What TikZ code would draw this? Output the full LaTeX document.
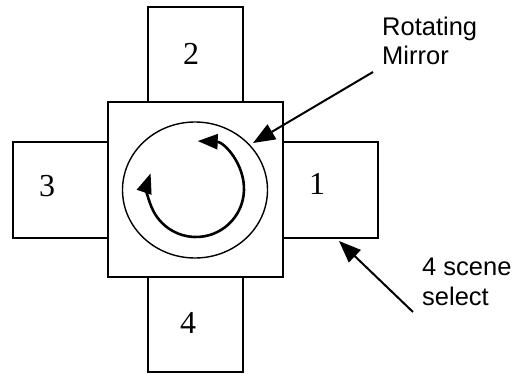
\documentclass[tikz,border=0pt]{standalone}
\usepackage{fontspec}
\setmainfont{Liberation Serif}
\newfontfamily\labelfont{Liberation Sans}
\usetikzlibrary{arrows.meta,shapes.geometric}
\tikzset{
  port/.style={draw, line width=1.5pt, rectangle, inner sep=0pt, minimum width=95pt, minimum height=95pt},
  hub/.style={draw, line width=1.5pt, rectangle, inner sep=0pt, minimum width=175pt, minimum height=175pt},
  ring/.style={draw, line width=1.4pt, ellipse, inner sep=0pt, minimum width=145pt, minimum height=136pt},
  digit/.style={font=\fontsize{32}{32}\selectfont, inner sep=0pt},
  note/.style={font=\labelfont\fontsize{25.5}{30}\selectfont, align=left, inner sep=0pt, anchor=base west},
  pointer/.style={line width=2pt, -{Triangle[length=22pt,width=17pt]}},
  spin/.style={line width=2.6pt, {Triangle[length=20pt,width=15pt]}-{Triangle[length=20pt,width=15pt]}}
}
\begin{document}
\begin{tikzpicture}[x=1pt,y=1pt]
\useasboundingbox (0,0) rectangle (515,373);
\node[hub] (hub) at (195.5,183.5) {};
\node[port] (b2) at (195.5,318.5) {};
\node[port, minimum height=96pt] (b3) at (60.5,183) {};
\node[port, minimum height=96pt] (b1) at (330.5,183) {};
\node[port] (b4) at (195.5,48.5) {};
\node[digit] (d2) at (191,319.5) {2};
\node[digit] (d3) at (47,187) {3};
\node[digit] (d1) at (317,189) {1};
\node[digit] (d4) at (188,50) {4};
\node[ring] (mirror) at (195,183) {};
\coordinate (spinc) at (196,184);
\draw[spin] ([shift={(88:48)}]spinc) arc[start angle=88, end angle=-199, radius=48];
\node[note] (rm) at (382,308) {Rotating\\Mirror};
\node[note] (ss) at (422,68) {4 scene\\select};
\coordinate (rmtail) at (373,301);
\coordinate (rmtip) at (253,230);
\coordinate (sstail) at (413,61);
\coordinate (sstip) at (339,132);
\draw[pointer] (rmtail) -- (rmtip);
\draw[pointer] (sstail) -- (sstip);
\end{tikzpicture}
\end{document}
